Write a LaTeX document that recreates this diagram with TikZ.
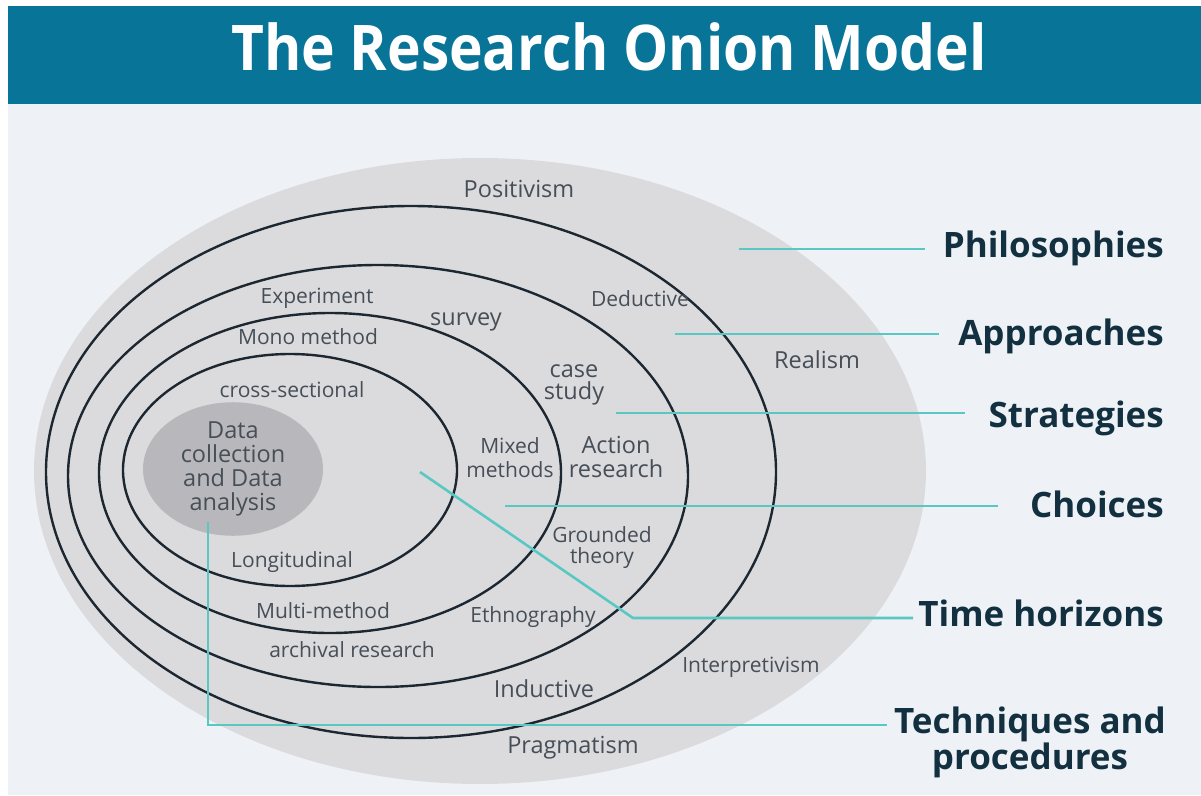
\documentclass[tikz,border=0pt]{standalone}
\usepackage{fontspec}
\setmainfont{Open Sans}
\usetikzlibrary{shapes.geometric}

\definecolor{headcol}{HTML}{087598}
\definecolor{bgcol}{HTML}{EEF2F6}
\definecolor{outercol}{HTML}{DBDBDD}
\definecolor{corecol}{HTML}{B8B8BC}
\definecolor{ringcol}{HTML}{1D2731}
\definecolor{leadcol}{HTML}{5AC8C2}
\definecolor{labelcol}{HTML}{464E58}
\definecolor{layercol}{HTML}{12303F}

\begin{document}
\begin{tikzpicture}[x=1pt, y=-1pt,
	ring/.style={draw=ringcol, line width=2.4pt},
	lead/.style={draw=leadcol, line width=2.6pt},
	lbl/.style={text=labelcol, font=\fontsize{21}{22}\selectfont, align=center, inner sep=0pt, anchor=base},
	biglbl/.style={lbl, font=\fontsize{23.5}{24}\selectfont},
	layer/.style={text=layercol, font=\bfseries\fontsize{35}{33}\selectfont, align=center, inner sep=0pt, anchor=base east},
	core/.style={ellipse, fill=corecol, minimum width=180pt, minimum height=124pt, inner sep=0pt, text=labelcol, align=center, font=\fontsize{23.5}{24}\selectfont}]
	\useasboundingbox (0,0) rectangle (1201,795);
	
	% draw background and header
	\fill[white] (0,0) rectangle (1201,795);
	\fill[bgcol] (8,104) rectangle (1201,795);
	\fill[headcol] (8,6) rectangle (1201,104);
	\node[text=white, font=\bfseries\fontsize{63}{63}\selectfont, inner sep=0pt, anchor=base] (title) at (609,70) {\scalebox{0.903}[1]{The Research Onion Model}};
	
	% draw onion layers
	\fill[outercol] (480,471) ellipse [x radius=446, y radius=313];
	\foreach \cx/\cy/\rx/\ry in {411/472/365/266, 378/476/310/211, 330/473/231/160, 290/470/167/116}
	\draw[ring] (\cx,\cy) ellipse [x radius=\rx, y radius=\ry];
	\node[core] (core) at (233,469) {Data\\collection\\and Data\\analysis};
	
	% draw labels in the layers (multi-line ones sit on their last line)
	\node[biglbl] (positivism) at (519,197) {Positivism};
	\node[biglbl] (realism) at (817,368) {Realism};
	\node[lbl] (interpretivism) at (751,672) {Interpretivism};
	\node[biglbl] (pragmatism) at (573,753) {Pragmatism};
	\node[lbl] (deductive) at (640,306) {Deductive};
	\node[biglbl] (inductive) at (544,697) {Inductive};
	\node[lbl] (experiment) at (317,303) {Experiment};
	\node[biglbl] (survey) at (466,325) {survey};
	\node[biglbl, font=\fontsize{23.5}{22}\selectfont] (casestudy) at (574,399) {case\\study};
	\node[biglbl] (action) at (616,477) {Action\\research};
	\node[lbl, font=\fontsize{21}{21}\selectfont] (grounded) at (602,563) {Grounded\\theory};
	\node[lbl] (ethnography) at (533,622) {Ethnography};
	\node[lbl] (archival) at (352,657) {archival research};
	\node[lbl] (mono) at (308,344) {Mono method};
	\node[lbl, font=\fontsize{21}{24}\selectfont] (mixed) at (510,477) {Mixed\\methods};
	\node[lbl] (multi) at (323,618) {Multi-method};
	\node[lbl] (cross) at (292,397) {cross-sectional};
	\node[lbl] (longitudinal) at (292,567) {Longitudinal};
	
	% draw layer names
	\node[layer] (philo) at (1164,257) {Philosophies};
	\node[layer] (approach) at (1164,345) {Approaches};
	\node[layer] (strategy) at (1164,427) {Strategies};
	\node[layer] (choice) at (1164,517) {Choices};
	\node[layer] (time) at (1164,626) {Time horizons};
	\node[layer, anchor=center] (tech) at (1030,742) {Techniques and\\procedures};
	
	% draw lead lines
	\coordinate (philo-pt) at (739,249);
	\coordinate (approach-pt) at (675,334);
	\coordinate (strategy-pt) at (616,413);
	\coordinate (choice-pt) at (505,506);
	\coordinate (time-pt) at (420,472);
	\coordinate (time-bend) at (633,618);
	\coordinate (tech-pt) at (208,522);
	\coordinate (tech-bend) at (208,725);
	\draw[lead] (philo-pt) -- ([xshift=-18pt]philo-pt -| philo.west);
	\draw[lead] (approach-pt) -- ([xshift=-19pt]approach-pt -| approach.west);
	\draw[lead] (strategy-pt) -- ([xshift=-23pt]strategy-pt -| strategy.west);
	\draw[lead] (choice-pt) -- ([xshift=-32pt]choice-pt -| choice.west);
	\draw[lead] (time-pt) -- (time-bend) -- ([xshift=-5pt]time-bend -| time.west);
	\draw[lead] (tech-pt) -- (tech-bend) -- ([xshift=-7pt]tech-bend -| tech.west);
\end{tikzpicture}
\end{document}
